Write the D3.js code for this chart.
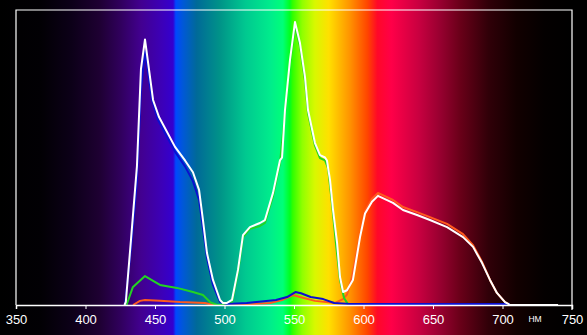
<!DOCTYPE html>
<html>
<head>
<meta charset="utf-8">
<script src="https://cdn.jsdelivr.net/npm/d3@7"></script>
<style>
  body { margin: 0; background: #000; }
  svg { display: block; }
</style>
</head>
<body>
<div id="chart"></div>
<script>
// axis ticks
var tickValues = [350, 400, 450, 500, 550, 600, 650, 700, 750];

// spectrum series, [wavelength nm, relative intensity]
var whiteSeries = [[428, 0], [429, 0.01], [432.7, 0.22], [437, 0.47], [439.9, 0.8], [442.8, 0.9], [448.6, 0.695],
    [452.9, 0.637], [464.4, 0.536], [471.6, 0.49], [477.3, 0.45], [481.7, 0.39], [484.5, 0.288], [487.4, 0.176],
    [491.7, 0.085], [496.8, 0.017], [498.9, 0.007], [501.8, 0.007], [505.4, 0.017], [509.7, 0.119], [513.3, 0.237],
    [518.3, 0.264], [525.5, 0.278], [529.1, 0.288], [534.9, 0.38], [539.9, 0.49], [541.4, 0.5], [543.5, 0.66],
    [547.1, 0.83], [550.7, 0.959], [554.3, 0.888], [557.9, 0.773], [560.1, 0.66], [565.1, 0.549], [568.7, 0.508],
    [572.3, 0.5], [573.7, 0.49], [575.9, 0.424], [578.1, 0.322], [581, 0.21], [583.1, 0.095], [585.3, 0.044],
    [588.1, 0.05], [592.4, 0.085], [597.5, 0.23], [601.1, 0.31], [606.1, 0.35], [610.4, 0.37], [621.2, 0.346],
    [628.4, 0.322], [638.5, 0.305], [647.8, 0.288], [660.1, 0.264], [671.6, 0.23], [678.8, 0.197], [685.3, 0.142],
    [691, 0.085], [696, 0.041], [701.8, 0.01], [705.4, 0], [740, 0]];

var blueSeries = [[428.4, 0], [432.7, 0.19], [437, 0.42], [439.9, 0.73], [442.8, 0.86], [447.9, 0.695],
    [452.2, 0.627], [464.4, 0.52], [471.6, 0.47], [477.3, 0.42], [481.7, 0.356], [484.5, 0.26], [487.4, 0.16],
    [491.7, 0.068], [496.8, 0.01], [501.8, 0.003], [516, 0.007], [537, 0.017], [545, 0.027], [551, 0.044],
    [555, 0.04], [562, 0.027], [571, 0.02], [579, 0.007], [590, 0.003], [705.4, 0.003]];

var greenSeries = [[429.5, 0], [434, 0.06], [442.8, 0.098], [453.6, 0.068], [465.8, 0.058], [477.3, 0.044],
    [484.5, 0.034], [489.6, 0.01], [494.6, 0], [501.8, 0], [505.4, 0.01], [509.7, 0.11], [513.3, 0.23],
    [518.3, 0.258], [525.5, 0.268], [529.1, 0.278], [534.9, 0.37], [539.9, 0.48], [543.5, 0.65], [547.1, 0.82],
    [550.7, 0.945], [554.3, 0.877], [557.9, 0.76], [560.1, 0.65], [565.1, 0.54], [568.7, 0.498], [572.3, 0.49],
    [574.5, 0.464], [577.4, 0.34], [580.3, 0.203], [583.1, 0.085], [586, 0.024], [588.8, 0.003], [593.9, 0]];

var redSeries = [[434.2, 0], [439.2, 0.014], [442.8, 0.017], [453.6, 0.014], [468, 0.01], [486, 0.007],
    [491.7, 0], [511.2, 0], [532.7, 0.007], [541.4, 0.017], [549.3, 0.034], [554.3, 0.027], [565.1, 0.014],
    [579.5, 0.007], [585.3, 0.02], [588.1, 0.035], [591.7, 0.095], [597.5, 0.234], [601.1, 0.319], [606.1, 0.36],
    [610.4, 0.38], [621.2, 0.356], [628.4, 0.332], [638.5, 0.315], [647.8, 0.298], [660.1, 0.275], [671.6, 0.24],
    [678.8, 0.203], [685.3, 0.146], [691, 0.085], [696, 0.041], [701.8, 0.01], [705.4, 0]];

// background spectrum colours, [nm, colour]
var spectrumStops = [[338, "#000000"], [368, "#020004"], [390, "#0c0018"], [410, "#1e0032"], [425, "#30005c"],
    [440, "#420090"], [455, "#3c00b8"], [463, "#3400d0"], [465, "#0048ff"], [470, "#0058d8"], [480, "#006a98"],
    [497, "#009488"], [515, "#00c890"], [533, "#00ec8c"], [542, "#00ff78"], [547, "#00ff20"], [549, "#30ff00"],
    [556, "#90ff00"], [565, "#d8f800"], [575, "#ffe000"], [590, "#ff9400"], [603, "#ff4400"], [610, "#ff0828"],
    [620, "#ff0048"], [640, "#c80040"], [655, "#980030"], [670, "#680018"], [690, "#300008"], [710, "#120000"],
    [730, "#040000"], [750, "#000000"], [760, "#000000"]];

var width = 587, height = 335;

var x = d3.scaleLinear().domain([350, 750]).range([16, 572]);
var y = d3.scaleLinear().domain([0, 1]).range([305, 10]);

var svg = d3.select("#chart").append("svg")
    .attr("width", width)
    .attr("height", height);

var grad = svg.append("defs").append("linearGradient")
    .attr("id", "spectrum")
    .attr("gradientUnits", "userSpaceOnUse")
    .attr("x1", 0).attr("x2", width)
    .attr("y1", 0).attr("y2", 0);

grad.selectAll("stop")
    .data(spectrumStops)
    .enter().append("stop")
    .attr("offset", function (d) { return Math.max(0, Math.min(1, x(d[0]) / width)); })
    .attr("stop-color", function (d) { return d[1]; });

svg.append("rect")
    .attr("width", width)
    .attr("height", height)
    .attr("fill", "url(#spectrum)");

// frame
svg.append("path")
    .attr("d", "M" + x(350) + "," + y(0) + "V" + y(1) + "H" + x(750) + "V" + (y(0) + 5))
    .attr("fill", "none")
    .attr("stroke", "#fff")
    .attr("stroke-width", 1.2);

var line = d3.line()
    .x(function (d) { return x(d[0]); })
    .y(function (d) { return y(d[1]); })
    .curve(d3.curveLinear);

var series = [
    { data: redSeries, color: "#ff5a1e" },
    { data: greenSeries, color: "#22d422" },
    { data: blueSeries, color: "#0a10d0" },
    { data: whiteSeries, color: "#ffffff" }
];

svg.selectAll(".spec")
    .data(series)
    .enter().append("path")
    .attr("class", "spec")
    .attr("d", function (d) { return line(d.data); })
    .attr("fill", "none")
    .attr("stroke", function (d) { return d.color; })
    .attr("stroke-width", 2)
    .attr("stroke-linejoin", "round");

// x axis
var axis = svg.append("g")
    .attr("transform", "translate(0," + y(0) + ")")
    .call(d3.axisBottom(x).tickValues(tickValues).tickSize(4).tickPadding(6).tickFormat(d3.format("d")));

axis.select(".domain").attr("stroke", "#fff").attr("stroke-width", 1.5);
axis.selectAll(".tick line").attr("stroke", "#fff");
axis.selectAll(".tick text")
    .attr("fill", "#fff")
    .style("font-family", "Liberation Sans, Arial, sans-serif")
    .style("font-size", "13px");

svg.append("text")
    .attr("x", 535)
    .attr("y", 322)
    .attr("text-anchor", "middle")
    .attr("fill", "#fff")
    .style("font-family", "Liberation Sans, Arial, sans-serif")
    .style("font-size", "8.5px")
    .text("НМ");
</script>
</body>
</html>
